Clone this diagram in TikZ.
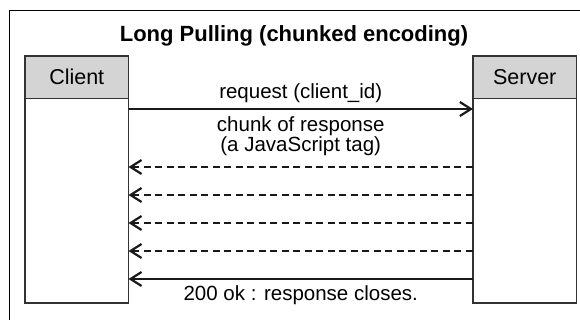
\documentclass[tikz,border=0pt]{standalone}
\usepackage{fontspec}
\setmainfont{Liberation Sans}
\usetikzlibrary{positioning,arrows.meta}
\begin{document}
\begin{tikzpicture}[x=1pt,y=-1pt]
\tikzstyle{headbox} = [draw=black!80, line width=1.3pt, fill=black!17, minimum width=103.5pt, minimum height=42.5pt, inner sep=0pt, outer sep=0pt, font=\fontsize{21.5}{24}\selectfont]
\tikzstyle{bodybox} = [draw=black!80, line width=1.3pt, minimum width=103.5pt, minimum height=204.5pt, inner sep=0pt, outer sep=0pt]
\tikzstyle{msg} = [draw=black!90, line width=1.2pt, -{Straight Barb[length=11pt,width=14pt,line width=2.2pt]}]
\tikzstyle{chunk} = [msg, dash pattern=on 7pt off 4.5pt]
\tikzstyle{msglabel} = [inner sep=0pt, text depth=0pt, anchor=south, align=center, font=\fontsize{20.5}{20}\selectfont]
\clip (0,0) rectangle (580,320);
\draw[line width=1.5pt] (9.5,10.5) rectangle (600,340);
\node[font=\bfseries\fontsize{22}{24}\selectfont, anchor=base] (title) at (294,42) {Long Pulling (chunked encoding)};
% the two lifelines
\node[headbox] (client) at (76.75,77.25) {Client};
\node[bodybox, below=0pt of client] (clientbody) {};
\node[headbox] (server) at (524.7,77.25) {Server};
\node[bodybox, below=0pt of server] (serverbody) {};
% messages
\draw[msg] ([yshift=-10.5pt]clientbody.north east) -- node[msglabel, above=10pt] {request (client\_id)} ([yshift=-10.5pt]serverbody.north west);
\draw[chunk] ([yshift=-68.5pt]serverbody.north west) -- node[msglabel, above=15pt] {chunk of response\\(a JavaScript tag)} ([yshift=-68.5pt]clientbody.north east);
\foreach \off in {96.5,124.5,152.5}
  \draw[chunk] ([yshift=-\off pt]serverbody.north west) -- ([yshift=-\off pt]clientbody.north east);
\draw[msg] ([yshift=-180.5pt]serverbody.north west) -- node[msglabel, anchor=base, yshift=-21pt] {200 ok : response closes.} ([yshift=-180.5pt]clientbody.north east);
\end{tikzpicture}
\end{document}
